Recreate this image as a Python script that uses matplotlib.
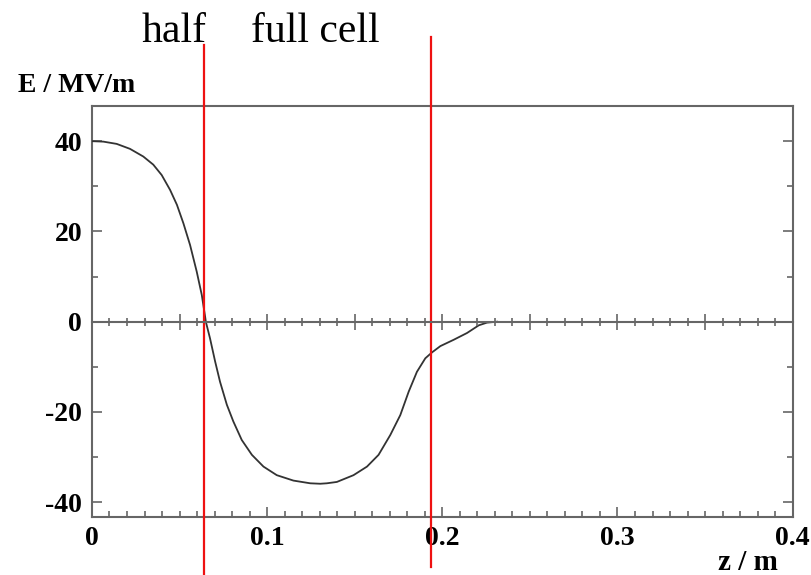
import matplotlib
matplotlib.use("Agg")
from matplotlib import pyplot as plt
from matplotlib.ticker import MultipleLocator

# field on axis
z = [0.0, 0.0065, 0.0141, 0.0217, 0.0293, 0.035, 0.0398, 0.0446, 0.0485,
     0.0522, 0.056, 0.0598, 0.0627, 0.0646, 0.065, 0.0674, 0.0703, 0.0731,
     0.077, 0.0807, 0.0855, 0.0913, 0.0979, 0.1055, 0.115, 0.1246, 0.1303,
     0.1341, 0.1398, 0.1493, 0.157, 0.1636, 0.1703, 0.176, 0.1808, 0.1855,
     0.1903, 0.1941, 0.1989, 0.2065, 0.2141, 0.2208, 0.2255, 0.2313]
E = [40.0, 39.9, 39.4, 38.3, 36.6, 34.8, 32.5, 29.2, 25.9,
     21.8, 17.0, 11.1, 5.9, 1.1, 0.0, -3.7, -8.8, -13.3,
     -18.4, -22.1, -26.2, -29.5, -32.1, -34.0, -35.2, -35.8, -35.9,
     -35.8, -35.5, -34.0, -32.1, -29.5, -25.1, -20.7, -15.5, -11.1,
     -8.1, -6.8, -5.4, -4.0, -2.5, -0.8, -0.2, 0.0]

cell_bounds = [0.0642, 0.1937]
yticks = [-40, -20, 0, 20, 40]
xticks = [0, 0.1, 0.2, 0.3, 0.4]
xtick_labels = ["0", "0.1", "0.2", "0.3", "0.4"]

plt.rcParams['font.family'] = ['Liberation Serif', 'DejaVu Serif']
plt.rcParams['axes.unicode_minus'] = False
axis_grey = '#666666'

fig = plt.figure(figsize=(8.11, 5.75), dpi=100)
ax = fig.add_axes([0.1134, 0.1014, 0.864, 0.7143])

ax.plot(z, E, color='#333333', lw=1.3, zorder=3)

ax.set_xlim(0, 0.4)
ax.set_ylim(-43.2, 47.8)

for s in ax.spines.values():
    s.set_color(axis_grey)
    s.set_linewidth(1.5)

ax.set_xticks(xticks)
ax.set_xticklabels(xtick_labels)
ax.set_yticks(yticks)
ax.xaxis.set_minor_locator(MultipleLocator(0.01))
ax.yaxis.set_minor_locator(MultipleLocator(10))
ax.tick_params(which='both', direction='in', top=True, right=True,
               color=axis_grey, width=1.2)
ax.tick_params(which='major', length=7, pad=7, labelsize=20)
ax.tick_params(which='minor', length=4)
for lab in ax.get_xticklabels() + ax.get_yticklabels():
    lab.set_fontweight('bold')

# zero line with its own ticks
ax2 = ax.twiny()
ax2.set_xlim(ax.get_xlim())
for name in ['top', 'left', 'right']:
    ax2.spines[name].set_visible(False)
ax2.spines['bottom'].set_position(('data', 0))
ax2.spines['bottom'].set_color(axis_grey)
ax2.spines['bottom'].set_linewidth(1.5)
ax2.xaxis.set_ticks_position('bottom')
ax2.xaxis.set_major_locator(MultipleLocator(0.05))
ax2.xaxis.set_minor_locator(MultipleLocator(0.01))
ax2.tick_params(which='both', direction='inout', labelbottom=False,
                color=axis_grey, width=1.2)
ax2.tick_params(which='major', length=12)
ax2.tick_params(which='minor', length=6)

for zb, y0, y1 in zip(cell_bounds, [-0.142, -0.1225], [1.1485, 1.168]):
    ax.axvline(zb, ymin=y0, ymax=y1, color='#ee1111', lw=1.6,
               clip_on=False, zorder=5)

fig.text(18 / 811, 1 - 92 / 575, "E / MV/m", fontsize=20, fontweight='bold',
         va='baseline', ha='left')
fig.text(778 / 811, 1 - 570 / 575, "z / m", fontsize=21, fontweight='bold',
         va='baseline', ha='right')
fig.text(142 / 811, 1 - 42 / 575, "half", fontsize=30, va='baseline', ha='left')
fig.text(251 / 811, 1 - 42 / 575, "full cell", fontsize=30, va='baseline',
         ha='left')

fig.savefig("out.png", dpi=100)
